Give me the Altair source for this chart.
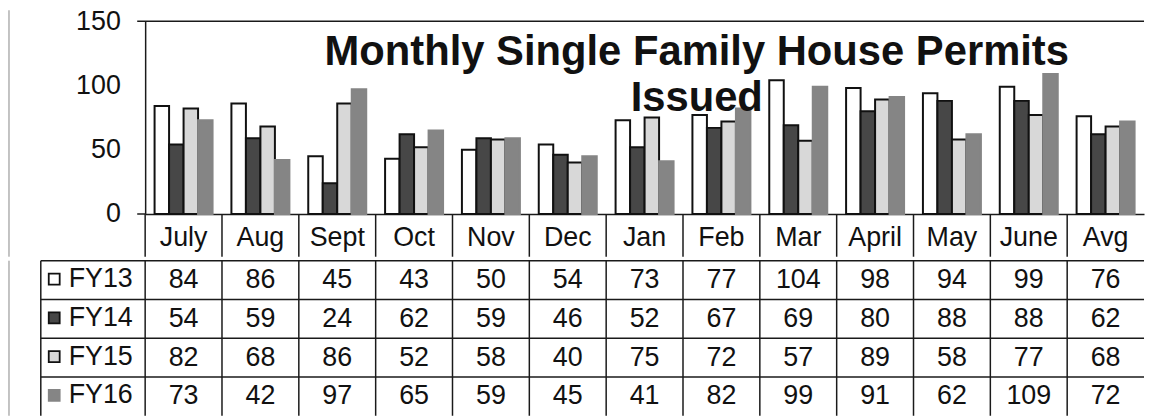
import altair as alt
import pandas as pd

# ---- data ----
months = ["July", "Aug", "Sept", "Oct", "Nov", "Dec", "Jan", "Feb", "Mar",
          "April", "May", "June", "Avg"]
series = ["FY13", "FY14", "FY15", "FY16"]
fy13 = [84, 86, 45, 43, 50, 54, 73, 77, 104, 98, 94, 99, 76]
fy14 = [54, 59, 24, 62, 59, 46, 52, 67, 69, 80, 88, 88, 62]
fy15 = [82, 68, 86, 52, 58, 40, 75, 72, 57, 89, 58, 77, 68]
fy16 = [73, 42, 97, 65, 59, 45, 41, 82, 99, 91, 62, 109, 72]
y_ticks = [0, 50, 100, 150]
title_lines = ["Monthly Single Family House Permits", "Issued"]

fill_colors = ["#ffffff", "#474747", "#d8d8d8", "#858585"]
stroke_colors = ["#111111", "#111111", "#111111", "#858585"]

rows = []
for s, vals in zip(series, [fy13, fy14, fy15, fy16]):
    for m, v in zip(months, vals):
        rows.append({"month": m, "series": s, "value": v})
df = pd.DataFrame(rows)
month_df = pd.DataFrame({"month": months})
series_df = pd.DataFrame({"series": series})

FONT = "Liberation Sans"
FS = 27
W = 1005
H_BAR = 194
HEAD = 43
ROW_H = 39
H_TAB = ROW_H * 4
LINE = "#1a1a1a"

x_scale = alt.Scale(type="band", domain=months, paddingInner=0, paddingOuter=0)
row_scale = alt.Scale(type="band", domain=series, paddingInner=0, paddingOuter=0)

x_axis = alt.Axis(ticks=False, tickSize=0, domainColor=LINE, domainWidth=1.5,
                  labelFont=FONT, labelFontSize=FS, labelColor="#111",
                  labelPadding=11, labelAngle=0, labelOverlap=False)

legend = alt.Legend(
    title=None, orient="none", legendX=-105, legendY=246, symbolType="square",
    symbolSize=121, symbolStrokeWidth=1.8, labelFont=FONT, labelFontSize=FS,
    labelColor="#111", rowPadding=ROW_H - FS - 1, labelOffset=1, padding=0,
)

bars = alt.Chart(df).mark_bar(strokeWidth=2).encode(
    x=alt.X("month:N", sort=months, title=None, scale=x_scale, axis=x_axis),
    xOffset=alt.XOffset("series:N", sort=series,
                        scale=alt.Scale(domain=series, paddingInner=0, paddingOuter=0.65)),
    y=alt.Y("value:Q", title=None, scale=alt.Scale(domain=[0, 150]),
            axis=alt.Axis(values=y_ticks, ticks=False, domain=True, domainColor=LINE,
                          domainWidth=1.5, grid=False,
                          labelFont=FONT, labelFontSize=FS, labelColor="#111",
                          labelPadding=25)),
    fill=alt.Fill("series:N", sort=series,
                  scale=alt.Scale(domain=series, range=fill_colors), legend=legend),
    stroke=alt.Stroke("series:N", sort=series,
                      scale=alt.Scale(domain=series, range=stroke_colors), legend=legend),
)

# column separators of the header row (at the left edge of every month band)
head_lines = alt.Chart(month_df).mark_rule(color=LINE, strokeWidth=1.5).encode(
    x=alt.X("month:N", sort=months, title=None, scale=x_scale, bandPosition=0, axis=x_axis),
    y=alt.value(H_BAR), y2=alt.value(H_BAR + HEAD),
)

title_df = pd.DataFrame({"t": ["\n".join(title_lines)]})
title = alt.Chart(title_df).mark_text(
    lineBreak="\n", font=FONT, fontSize=42, fontWeight="bold", color="#111",
    align="center", baseline="alphabetic", lineHeight=46,
).encode(x=alt.value(555), y=alt.value(44), text="t:N")

frame_df = pd.DataFrame({"a": [0]})
left_frame = alt.Chart(frame_df).mark_rule(color="#888", strokeWidth=1).encode(
    x=alt.value(-137), y=alt.value(-11), y2=alt.value(H_BAR + HEAD))
plot_top = alt.Chart(frame_df).mark_rule(color=LINE, strokeWidth=1.5).encode(
    x=alt.value(-8), x2=alt.value(W), y=alt.value(0))
plot_bottom = alt.Chart(frame_df).mark_rule(color=LINE, strokeWidth=1.5).encode(
    x=alt.value(-8), x2=alt.value(0), y=alt.value(H_BAR))

bar_chart = alt.layer(bars, head_lines, title, left_frame, plot_top, plot_bottom).properties(
    width=W, height=H_BAR)

table_text = alt.Chart(df).mark_text(font=FONT, fontSize=FS, color="#111").encode(
    x=alt.X("month:N", sort=months, title=None, scale=x_scale, axis=None),
    y=alt.Y("series:N", sort=series, title=None, scale=row_scale, axis=None),
    text="value:Q",
)
table_vlines = alt.Chart(month_df).mark_rule(color=LINE, strokeWidth=1.5).encode(
    x=alt.X("month:N", sort=months, scale=x_scale, bandPosition=0, axis=None),
    y=alt.value(0), y2=alt.value(H_TAB),
)
table_hlines = alt.Chart(series_df).mark_rule(color=LINE, strokeWidth=1.5).encode(
    y=alt.Y("series:N", sort=series, scale=row_scale, bandPosition=0, axis=None),
    x=alt.value(-105), x2=alt.value(W),
)
table_left = alt.Chart(frame_df).mark_rule(color=LINE, strokeWidth=1.5).encode(
    x=alt.value(-105), y=alt.value(0), y2=alt.value(H_TAB))
table_frame = alt.Chart(frame_df).mark_rule(color="#888", strokeWidth=1).encode(
    x=alt.value(-137), y=alt.value(0), y2=alt.value(H_TAB))

table = alt.layer(table_text, table_vlines, table_hlines, table_left, table_frame).properties(
    width=W, height=H_TAB)

chart = (
    alt.vconcat(bar_chart, table, spacing=0)
    .resolve_scale(x="independent", y="independent")
    .properties(padding={"left": 0, "top": -3, "right": 0, "bottom": 0}, background="white")
    .configure_view(stroke="transparent")
)

chart.save("out.html", embed_options={"renderer": "svg", "actions": False})
